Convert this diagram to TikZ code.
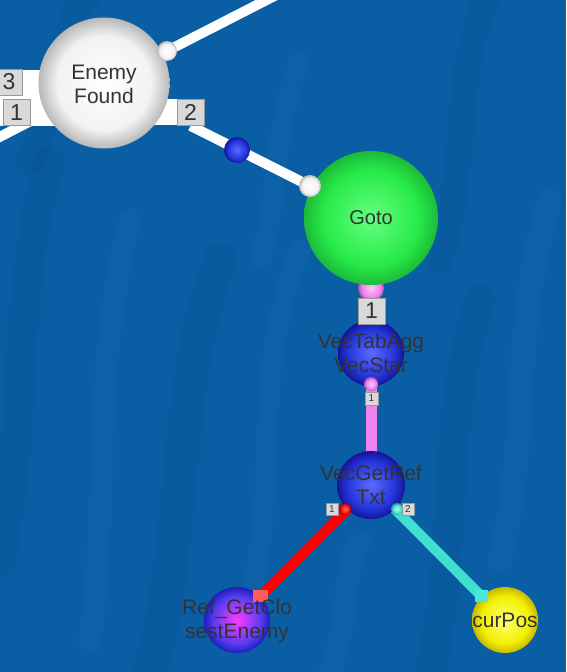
\documentclass[tikz,border=0pt]{standalone}
\usepackage{fontspec}
\setmainfont{Liberation Sans}
\usetikzlibrary{backgrounds}
\definecolor{bgblue}{HTML}{0A5EA4}
\definecolor{bglight}{HTML}{2A82C4}
\definecolor{bgdark}{HTML}{043C78}
\definecolor{textgray}{HTML}{333333}
\definecolor{labgray}{HTML}{D9D9D9}
\definecolor{pinkline}{HTML}{EE82EE}
\definecolor{cyanline}{HTML}{40E0D0}
\definecolor{whmid}{HTML}{F2F2F2}
\definecolor{whout}{HTML}{B8B8B8}
\definecolor{greenin}{HTML}{66FF80}
\definecolor{greenmid}{HTML}{26EA48}
\definecolor{greenout}{HTML}{1CBA38}
\definecolor{bluein}{HTML}{5A6AFF}
\definecolor{bluemid}{HTML}{2434D8}
\definecolor{blueout}{HTML}{14149A}
\definecolor{pinkin}{HTML}{FFC4FF}
\definecolor{pinkmid}{HTML}{EE82EE}
\definecolor{pinkout}{HTML}{B050B0}
\definecolor{redin}{HTML}{FF7070}
\definecolor{redmid}{HTML}{EE1010}
\definecolor{redout}{HTML}{A00000}
\definecolor{cyin}{HTML}{A8FFF6}
\definecolor{cymid}{HTML}{40E0D0}
\definecolor{cyout}{HTML}{209888}
\definecolor{magin}{HTML}{FF3CFF}
\definecolor{magmid}{HTML}{5A3CF0}
\definecolor{magout}{HTML}{1E1EC0}
\definecolor{yelin}{HTML}{FFFF78}
\definecolor{yelmid}{HTML}{F2F000}
\definecolor{yelout}{HTML}{C8B800}
\definecolor{redtip}{HTML}{FF5A5A}
\definecolor{cyantip}{HTML}{4AE8D8}
\colorlet{sphA}{white}\colorlet{sphM}{white}\colorlet{sphB}{gray}
\pgfdeclareradialshading[sphA,sphM,sphB]{sphshade}{\pgfpoint{0bp}{0bp}}{color(0bp)=(sphA); color(18bp)=(sphM); color(25bp)=(sphB); color(50bp)=(sphB)}
\pgfdeclarelayer{lines}
\pgfsetlayers{background,lines,main}
\begin{document}
\begin{tikzpicture}[x=1pt,y=-1pt,
  sph/.style n args={4}{circle,inner sep=0pt,minimum size=#1,/utils/exec={\colorlet{sphA}{#2}\colorlet{sphM}{#3}\colorlet{sphB}{#4}},shade,shading=sphshade},
  txt/.style={text=textgray,font=\fontsize{21}{24}\selectfont,align=center,inner sep=0pt},
  lab/.style={fill=labgray,draw=gray!80,line width=0.6pt,inner sep=0pt,minimum width=27pt,minimum height=26pt,font=\fontsize{23}{23}\selectfont,text=black!80},
  slab/.style={fill=labgray,draw=gray!80,line width=0.4pt,inner sep=0pt,minimum size=12.5pt,font=\fontsize{10}{10}\selectfont,text=black!80},
  conn/.style={line width=10pt},
  streak/.style={line width=#1,opacity=0.11,line cap=round}]
\useasboundingbox (0,0) rectangle (566,672);
\clip (0,0) rectangle (566,672);
% background
\begin{scope}[on background layer]
\fill[bgblue] (0,0) rectangle (566,672);
\draw[streak=30pt,bgdark] (0,560) .. controls (30,420) and (10,300) .. (50,160);
\draw[streak=22pt,bglight] (90,640) .. controls (110,500) and (90,380) .. (130,220);
\draw[streak=34pt,bgdark] (150,672) .. controls (190,520) and (170,400) .. (220,260);
\draw[streak=20pt,bglight] (250,600) .. controls (280,470) and (250,380) .. (300,250);
\draw[streak=30pt,bgdark] (430,672) .. controls (460,540) and (440,420) .. (480,300);
\draw[streak=24pt,bglight] (500,560) .. controls (530,440) and (510,330) .. (550,200);
\draw[streak=26pt,bgdark] (440,260) .. controls (470,160) and (450,80) .. (490,-10);
\draw[streak=20pt,bglight] (260,260) .. controls (280,200) and (270,140) .. (300,60);
\draw[streak=28pt,bgdark] (30,160) .. controls (60,100) and (50,50) .. (90,-10);
\draw[streak=22pt,bglight] (330,672) .. controls (350,620) and (340,580) .. (360,540);
\end{scope}
% spheres
\node[sph={131pt}{white}{whmid}{whout}] (ef) at (104,83) {};
\node[sph={20pt}{white}{whmid}{whout}] (efp) at (167,51) {};
\node[sph={134pt}{greenin}{greenmid}{greenout}] (goto) at (371,218) {};
\node[sph={22pt}{white}{whmid}{whout}] (gp) at (310,186) {};
\node[sph={26pt}{bluein}{bluemid}{blueout}] (mid) at (237,150) {};
\node[sph={66pt}{bluein}{bluemid}{blueout}] (vta) at (371,353) {};
\node[sph={14pt}{pinkin}{pinkmid}{pinkout}] (vtap) at (371,384) {};
\node[sph={68pt}{bluein}{bluemid}{blueout}] (vgr) at (371,485) {};
\node[sph={12pt}{redin}{redmid}{redout}] (rp) at (345,509) {};
\node[sph={12pt}{cyin}{cymid}{cyout}] (cp) at (397,509) {};
\node[sph={66pt}{magin}{magmid}{magout}] (ref) at (237,620) {};
\node[sph={66pt}{yelin}{yelmid}{yelout}] (cur) at (505,620) {};
% connector end caps
\node[fill=redtip,inner sep=0pt,minimum width=15pt,minimum height=12pt] (rtip) at (260,596) {};
\node[fill=cyantip,inner sep=0pt,minimum width=13pt,minimum height=12pt] (ctip) at (481,596) {};
% coordinates for free ends
\coordinate (tr) at (290,-12);
\coordinate (ll) at (-12,143);
% labels
\node[lab] (l3) at (9,82) {3};
\node[lab] (l1) at (16.5,112.5) {1};
\node[lab] (l2) at (190.5,112.5) {2};
\node[lab] (g1) at (371.5,311) {1};
\node[slab] (v1) at (371.5,398.5) {1};
\node[slab] (r1) at (332,509) {1};
\node[slab] (c2) at (408,509) {2};
% connectors behind spheres
\begin{pgfonlayer}{lines}
\draw[conn,white] (efp.center) -- (tr);
\draw[conn,white] (ef.center) -- (ll);
\fill[white] (0,70) rectangle (60,126);
\fill[white] (140,99) rectangle (185,125);
\draw[conn,white] (l2.south) -- (gp.center);
\draw[line width=11pt,pinkline] (vta.center) -- (vgr.center);
\draw[conn,red] (vgr.center) -- (ref.center);
\draw[conn,cyanline] (vgr.center) -- (cur.center);
\node[sph={26pt}{pinkin}{pinkmid}{pinkout}] (gop) at (371,288) {};
\end{pgfonlayer}
% texts
\node[txt] (eft) at (104,84) {Enemy\\Found};
\node[txt,font=\fontsize{20}{24}\selectfont] (gotot) at (371,218) {Goto};
\node[txt] (vtat) at (371,353) {VecTabAgg\\VecStar};
\node[txt] (vgrt) at (371,485) {VecGetRef\\Txt};
\node[txt] (reft) at (237,621) {Ref\_GetClo\\sestEnemy};
\node[txt] (curt) at (505,620) {curPos};
\end{tikzpicture}
\end{document}
